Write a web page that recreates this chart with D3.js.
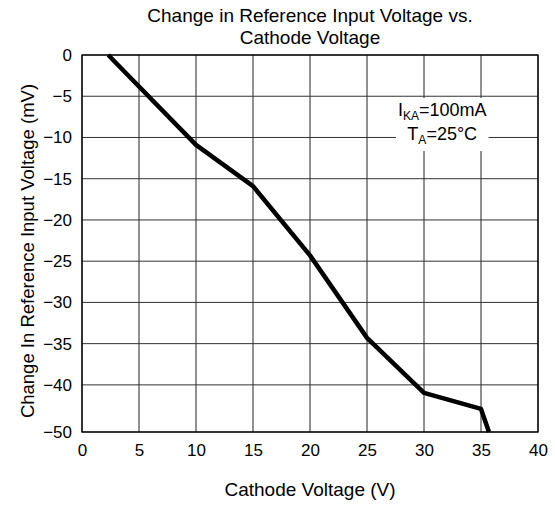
<!DOCTYPE html>
<html>
<head>
<meta charset="utf-8">
<script src="https://cdn.jsdelivr.net/npm/d3@7"></script>
<style>
  body { margin: 0; background: #fff; }
  text { font-family: "Liberation Sans", Arial, sans-serif; fill: #000; }
</style>
</head>
<body>
<svg id="chart" width="555" height="505"></svg>
<script>
// data
var cathodeV = [2.3, 10, 15, 20, 25, 30, 35, 35.7];
var deltaVref = [0, -10.9, -15.9, -24.3, -34.3, -41.7, -45.1, -50];
var xTicks = [0, 5, 10, 15, 20, 25, 30, 35, 40];
var yTicks = [0, -5, -10, -15, -20, -25, -30, -35, -40, -50];

var svg = d3.select("#chart");
var margin = {top: 55, right: 17, bottom: 73, left: 82};
var width = 555 - margin.left - margin.right;
var height = 505 - margin.top - margin.bottom;

var g = svg.append("g").attr("transform", "translate(" + margin.left + "," + margin.top + ")");

var x = d3.scaleLinear().domain([0, 40]).range([0, width]);
// the original axis squeezes -45 out: last interval -40..-50 is a bit taller
var y = d3.scaleLinear().domain([0, -40, -50]).range([0, height * 0.875, height]);

// grid
g.append("g").selectAll("line").data(xTicks).enter().append("line")
  .attr("x1", function(d){ return x(d); }).attr("x2", function(d){ return x(d); })
  .attr("y1", 0).attr("y2", height)
  .attr("stroke", "#222").attr("stroke-width", 1);
g.append("g").selectAll("line").data(yTicks).enter().append("line")
  .attr("x1", 0).attr("x2", width)
  .attr("y1", function(d){ return y(d); }).attr("y2", function(d){ return y(d); })
  .attr("stroke", "#333").attr("stroke-width", 1);

g.append("rect").attr("x", 0).attr("y", 0).attr("width", width).attr("height", height)
  .attr("fill", "none").attr("stroke", "#000").attr("stroke-width", 1.3);

// axes (tick labels only)
var xAxis = g.append("g").attr("transform", "translate(0," + height + ")")
  .call(d3.axisBottom(x).tickValues(xTicks).tickSize(0).tickPadding(12));
var yAxis = g.append("g")
  .call(d3.axisLeft(y).tickValues(yTicks).tickSize(0).tickPadding(10));
[xAxis, yAxis].forEach(function(a){
  a.select(".domain").remove();
  a.selectAll("text").style("font-size", "17px").attr("font-family", null);
});

// annotation
var note = g.append("g").attr("transform", "translate(" + x(31.6) + "," + y(-7.4) + ")");
var bg = note.append("rect").attr("fill", "#fff");
var t1 = note.append("text").attr("text-anchor", "middle").attr("y", 0).style("font-size", "18px");
t1.append("tspan").text("I");
t1.append("tspan").text("KA").style("font-size", "12px").attr("dy", 4);
t1.append("tspan").text("=100mA").attr("dy", -4);
var t2 = note.append("text").attr("text-anchor", "middle").attr("y", 24).style("font-size", "18px");
t2.append("tspan").text("T");
t2.append("tspan").text("A").style("font-size", "12px").attr("dy", 4);
t2.append("tspan").text("=25°C").attr("dy", -4);
var b = note.node().getBBox();
bg.attr("x", b.x - 2).attr("y", b.y - 2).attr("width", b.width + 4).attr("height", b.height + 6);

// curve
var line = d3.line().x(function(d){ return x(d[0]); }).y(function(d){ return y(d[1]); });
g.append("path").datum(d3.zip(cathodeV, deltaVref))
  .attr("d", line).attr("fill", "none").attr("stroke", "#000")
  .attr("stroke-width", 4.5).attr("stroke-linejoin", "round");

// titles
svg.append("text").attr("x", margin.left + width / 2).attr("y", 22)
  .attr("text-anchor", "middle").style("font-size", "19px")
  .text("Change in Reference Input Voltage vs.");
svg.append("text").attr("x", margin.left + width / 2).attr("y", 44)
  .attr("text-anchor", "middle").style("font-size", "19px")
  .text("Cathode Voltage");
svg.append("text").attr("x", margin.left + width / 2).attr("y", 496)
  .attr("text-anchor", "middle").style("font-size", "19px")
  .text("Cathode Voltage (V)");
svg.append("text")
  .attr("transform", "translate(34,251) rotate(-90)")
  .attr("text-anchor", "middle").style("font-size", "18.5px")
  .text("Change In Reference Input Voltage (mV)");
</script>
</body>
</html>
